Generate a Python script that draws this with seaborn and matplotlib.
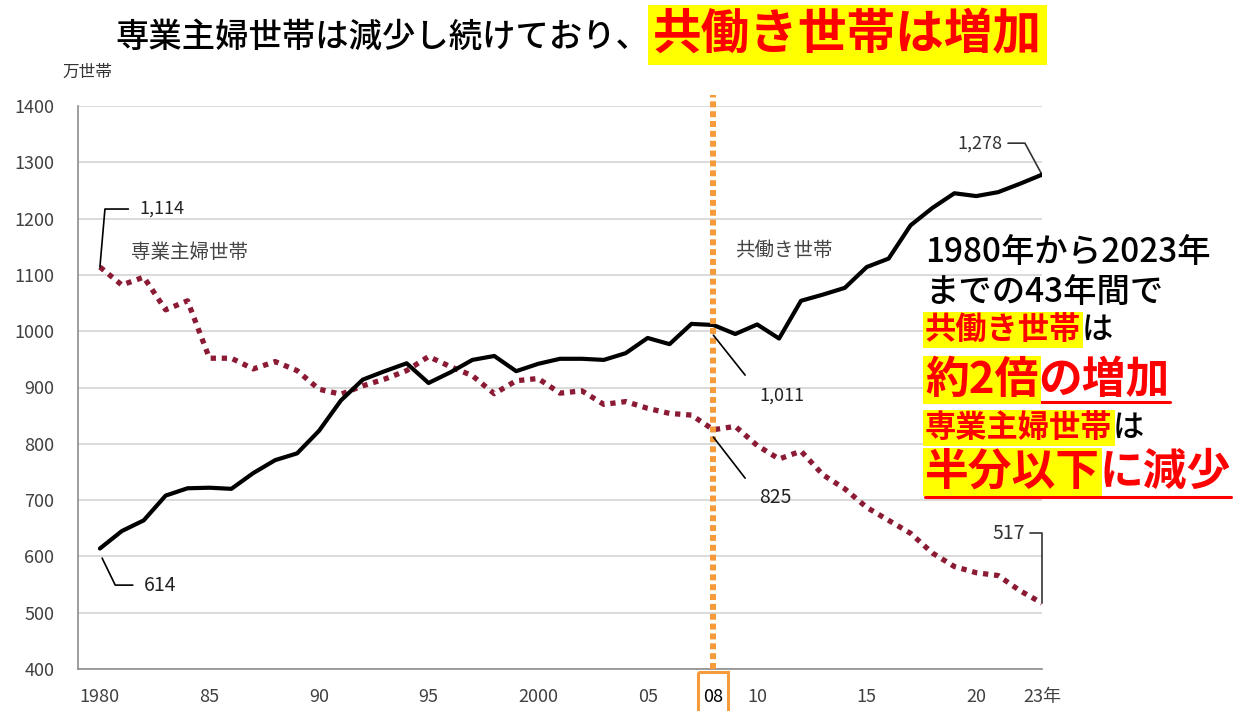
import matplotlib
matplotlib.use("Agg")
import matplotlib.pyplot as plt
import seaborn as sns
import pandas as pd
from matplotlib.lines import Line2D
from matplotlib.patches import Rectangle

# data: 万世帯
years = list(range(1980, 2024))
dual_income = [614, 645, 664, 708, 721, 722, 720, 748, 771, 783,
               823, 877, 914, 929, 943, 908, 927, 949, 956, 929,
               942, 951, 951, 949, 961, 988, 977, 1013, 1011, 995,
               1012, 987, 1054, 1065, 1077, 1114, 1129, 1188, 1219, 1245,
               1240, 1247, 1262, 1278]
housewife = [1114, 1082, 1096, 1038, 1054, 952, 952, 933, 946, 930,
             897, 888, 903, 915, 930, 955, 937, 921, 889, 912,
             916, 890, 894, 870, 875, 863, 854, 851, 825, 831,
             797, 773, 787, 745, 720, 687, 664, 641, 606, 582,
             571, 566, 539, 517]
label_years = {1980: "1980", 1985: "85", 1990: "90", 1995: "95", 2000: "2000",
               2005: "05", 2008: "08", 2010: "10", 2015: "15", 2020: "20", 2023: "23年"}
y_ticks = [400, 500, 600, 700, 800, 900, 1000, 1100, 1200, 1300, 1400]

df = pd.DataFrame({"year": years, "dual": dual_income, "housewife": housewife})

sns.set_theme(style="white")
plt.rcParams["font.family"] = ["Noto Sans CJK JP", "DejaVu Sans"]

W, H = 1234, 711
fig = plt.figure(figsize=(W / 100, H / 100), dpi=100)
ax = fig.add_axes([78 / W, 1 - 669 / H, (1042 - 78) / W, (669 - 106) / H])

sns.lineplot(data=df, x="year", y="housewife", ax=ax, color="#8B1A35",
             linewidth=3.8, linestyle=(0, (1, 1.1)), zorder=3)
sns.lineplot(data=df, x="year", y="dual", ax=ax, color="black",
             linewidth=3.0, zorder=4)

ax.set_xlim(1979, 2023)
ax.set_ylim(400, 1400)
ax.set_yticks(y_ticks)
ax.set_yticklabels([str(v) for v in y_ticks])
ax.set_xticks(years)
ax.set_xticklabels([label_years.get(y, "") for y in years])
ax.set_xlabel("")
ax.set_ylabel("")
ax.grid(axis="y", color="#d4d4d4", linewidth=1.2)
ax.tick_params(axis="y", length=0, pad=17, labelsize=13, labelcolor="#404040")
ax.tick_params(axis="x", direction="in", length=4, width=1, color="#888888",
               pad=14, labelsize=13, labelcolor="#404040")
for lab in ax.get_xticklabels():
    if lab.get_text() == "08":
        lab.set_color("black")
for s in ["top", "right"]:
    ax.spines[s].set_visible(False)
for s in ["left", "bottom"]:
    ax.spines[s].set_color("#8c8c8c")
    ax.spines[s].set_linewidth(1.2)

# 2008 marker
ax.axvline(2008, ymin=0, ymax=1.02, color="#F79A3A", linewidth=4.3,
           linestyle=(0, (1, 0.65)), clip_on=False, zorder=5)
ax.add_patch(Rectangle((2007.3, -0.005), 1.35, -0.09, transform=ax.get_xaxis_transform(),
                       fill=False, edgecolor="#F79A3A", linewidth=2.2, clip_on=False))

# leader lines and value labels
lc = dict(color="black", linewidth=1.2, zorder=6)
ax.plot([1980, 1980.23, 1981.3], [1114, 1217, 1217], **lc)
ax.text(1981.8, 1217, "1,114", fontsize=13, va="center", ha="left", color="#222222")
ax.plot([1980.1, 1980.7, 1981.5], [597, 549, 549], **lc)
ax.text(1982.0, 549, "614", fontsize=14, va="center", ha="left", color="#222222")
ax.plot([2008.0, 2009.45], [993, 922], **lc)
ax.text(2010.1, 885, "1,011", fontsize=13, va="center", ha="left", color="#222222")
ax.plot([2008.0, 2009.45], [812, 739], **lc)
ax.text(2010.1, 705, "825", fontsize=14, va="center", ha="left", color="#222222")
ax.plot([2021.45, 2022.22, 2023], [1334, 1334, 1278], color="#333333", linewidth=1.2)
ax.text(2021.2, 1334, "1,278", fontsize=13, va="center", ha="right", color="#333333")
ax.plot([2022.45, 2023, 2023], [641, 641, 517], color="#333333", linewidth=1.2, clip_on=False)
ax.text(2022.2, 641, "517", fontsize=14, va="center", ha="right", color="#333333")

ax.text(1981.4, 1139, "専業主婦世帯", fontsize=14, va="center", ha="left", color="#444444")
ax.text(2009.0, 1144, "共働き世帯", fontsize=14, va="center", ha="left", color="#444444")

fig.text(62 / W, 1 - 72 / H, "万世帯", fontsize=12, va="center", ha="left", color="#333333")

renderer = fig.canvas.get_renderer()


def run_text(x_px, y_px, parts, underline=None, weight="bold", pad=1.5):
    # draw text pieces one after another on the same line
    x = x_px
    for s, color, size, bg in parts:
        kw = {}
        if bg:
            kw["bbox"] = dict(facecolor=bg, edgecolor="none", pad=pad)
        w = "medium" if color == "black" else weight
        t = fig.text(x / W, 1 - y_px / H, s, fontsize=size, color=color, fontweight=w,
                     va="center", ha="left", **kw)
        bb = t.get_window_extent(renderer)
        x += bb.width
    if underline is not None:
        fig.add_artist(Line2D([x_px / W, x / W], [1 - underline / H] * 2,
                              color="red", linewidth=2.2))
    return x


RED, YEL = "#FF0000", "#FFFF00"
run_text(115, 37, [("専業主婦世帯は減少し続けており、", "black", 24, None)])
run_text(653, 35, [("共働き世帯は増加", RED, 35, YEL)], pad=4)

run_text(925, 253, [("1980年から2023年", "black", 24, None)])
run_text(925, 292, [("までの43年間で", "black", 24, None)])
run_text(925, 330, [("共働き世帯", RED, 22.5, YEL), ("は", "black", 22.5, None)])
run_text(925, 380, [("約2倍", RED, 31.5, YEL), ("の増加", RED, 31.5, None)], underline=402)
run_text(925, 428, [("専業主婦世帯", RED, 22.5, YEL), ("は", "black", 22.5, None)])
run_text(925, 472, [("半分以下", RED, 31.5, YEL), ("に減少", RED, 31.5, None)], underline=497)

fig.savefig("out.png", dpi=100, facecolor="white")
